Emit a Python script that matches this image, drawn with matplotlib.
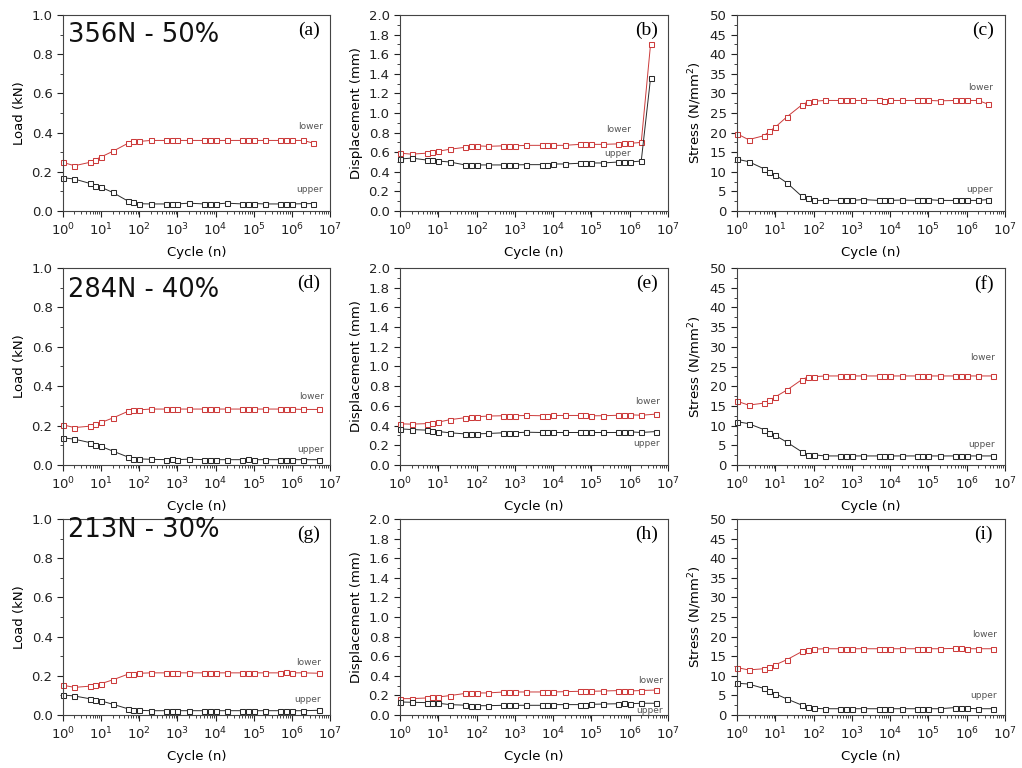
import numpy as np
import matplotlib
matplotlib.use("Agg")
import matplotlib.pyplot as plt
from matplotlib.ticker import MultipleLocator, LogLocator

# cycle counts
cycles_r1 = [1, 2, 5, 7, 10, 20, 50, 70, 100, 200, 500, 700, 1e3, 2e3, 5e3, 7e3,
             1e4, 2e4, 5e4, 7e4, 1e5, 2e5, 5e5, 7e5, 1e6, 2e6, 3.5e6]
cycles_r23 = cycles_r1[:-1] + [5e6]

# 356N - 50%
load_a_lower = [0.248, 0.231, 0.248, 0.262, 0.276, 0.304, 0.345, 0.355, 0.355, 0.36, 0.36, 0.36, 0.36, 0.36,
                0.36, 0.36, 0.36, 0.36, 0.36, 0.36, 0.36, 0.36, 0.36, 0.36, 0.36, 0.36, 0.347]
load_a_upper = [0.17, 0.163, 0.141, 0.129, 0.121, 0.095, 0.051, 0.044, 0.037, 0.036, 0.036, 0.036, 0.036, 0.04,
                0.036, 0.036, 0.036, 0.04, 0.036, 0.038, 0.038, 0.036, 0.036, 0.036, 0.036, 0.037, 0.038]
disp_b_lower = [0.59, 0.58, 0.59, 0.60, 0.61, 0.63, 0.65, 0.66, 0.665, 0.66, 0.665, 0.665, 0.665, 0.67,
                0.67, 0.67, 0.67, 0.67, 0.68, 0.68, 0.68, 0.68, 0.685, 0.69, 0.69, 0.70, 1.70]
disp_b_upper = [0.53, 0.54, 0.52, 0.52, 0.51, 0.50, 0.47, 0.47, 0.47, 0.47, 0.47, 0.47, 0.47, 0.473,
                0.473, 0.473, 0.48, 0.48, 0.487, 0.49, 0.49, 0.49, 0.50, 0.50, 0.50, 0.51, 1.356]
stress_c_lower = [19.7, 18.2, 19.2, 20.3, 21.4, 24.0, 27.1, 27.8, 28.0, 28.2, 28.2, 28.2, 28.2, 28.2,
                  28.2, 28.0, 28.2, 28.2, 28.2, 28.2, 28.2, 28.1, 28.2, 28.2, 28.2, 28.2, 27.3]
stress_c_upper = [13.2, 12.6, 10.8, 9.9, 9.2, 7.2, 3.7, 3.2, 2.7, 2.7, 2.7, 2.7, 2.7, 2.9,
                  2.7, 2.7, 2.7, 2.8, 2.7, 2.9, 2.9, 2.7, 2.7, 2.7, 2.7, 2.7, 2.9]

# 284N - 40%
load_d_lower = [0.204, 0.19, 0.197, 0.207, 0.216, 0.238, 0.272, 0.279, 0.28, 0.284, 0.284, 0.284, 0.284, 0.284,
                0.284, 0.284, 0.284, 0.284, 0.284, 0.284, 0.284, 0.284, 0.284, 0.284, 0.284, 0.282, 0.282]
load_d_upper = [0.138, 0.131, 0.114, 0.104, 0.094, 0.071, 0.041, 0.031, 0.031, 0.029, 0.027, 0.03, 0.027, 0.03,
                0.027, 0.027, 0.027, 0.027, 0.027, 0.03, 0.027, 0.027, 0.027, 0.027, 0.027, 0.027, 0.027]
disp_e_lower = [0.418, 0.415, 0.42, 0.43, 0.435, 0.46, 0.48, 0.486, 0.49, 0.497, 0.50, 0.50, 0.50, 0.503,
                0.50, 0.50, 0.503, 0.503, 0.503, 0.503, 0.50, 0.50, 0.505, 0.507, 0.51, 0.505, 0.517]
disp_e_upper = [0.367, 0.36, 0.354, 0.35, 0.34, 0.327, 0.316, 0.316, 0.316, 0.32, 0.327, 0.327, 0.327, 0.333,
                0.33, 0.33, 0.33, 0.33, 0.33, 0.33, 0.33, 0.33, 0.33, 0.33, 0.337, 0.33, 0.34]
stress_f_lower = [16.2, 15.2, 15.7, 16.4, 17.3, 19.0, 21.7, 22.3, 22.4, 22.6, 22.6, 22.6, 22.6, 22.6,
                  22.6, 22.6, 22.6, 22.6, 22.6, 22.6, 22.6, 22.6, 22.6, 22.6, 22.6, 22.6, 22.6]
stress_f_upper = [11.0, 10.5, 9.0, 8.2, 7.5, 5.8, 3.3, 2.6, 2.6, 2.3, 2.3, 2.3, 2.3, 2.3,
                  2.3, 2.3, 2.3, 2.3, 2.3, 2.3, 2.3, 2.3, 2.3, 2.3, 2.3, 2.3, 2.3]

# 213N - 30%
load_g_lower = [0.152, 0.141, 0.147, 0.152, 0.16, 0.179, 0.208, 0.211, 0.213, 0.215, 0.215, 0.215, 0.215, 0.215,
                0.215, 0.215, 0.215, 0.215, 0.215, 0.215, 0.215, 0.215, 0.215, 0.218, 0.215, 0.215, 0.213]
load_g_upper = [0.102, 0.097, 0.083, 0.077, 0.072, 0.055, 0.032, 0.027, 0.024, 0.022, 0.022, 0.022, 0.022, 0.022,
                0.022, 0.022, 0.022, 0.022, 0.022, 0.022, 0.022, 0.022, 0.022, 0.022, 0.022, 0.022, 0.024]
disp_h_lower = [0.167, 0.167, 0.174, 0.18, 0.184, 0.198, 0.22, 0.225, 0.225, 0.225, 0.235, 0.235, 0.235, 0.235,
                0.235, 0.235, 0.235, 0.238, 0.242, 0.242, 0.242, 0.245, 0.249, 0.249, 0.245, 0.25, 0.255]
disp_h_upper = [0.133, 0.13, 0.126, 0.123, 0.12, 0.106, 0.1, 0.095, 0.095, 0.095, 0.099, 0.099, 0.099, 0.099,
                0.099, 0.099, 0.106, 0.106, 0.106, 0.106, 0.109, 0.112, 0.115, 0.12, 0.115, 0.12, 0.12]
stress_i_lower = [12.1, 11.5, 11.8, 12.3, 12.8, 14.1, 16.2, 16.7, 16.8, 16.9, 16.9, 16.9, 16.9, 16.9,
                  16.9, 16.9, 16.9, 16.9, 16.9, 16.9, 16.9, 16.9, 17.0, 17.1, 16.9, 16.9, 16.9]
stress_i_upper = [8.1, 7.9, 6.8, 6.1, 5.4, 4.1, 2.5, 2.0, 1.7, 1.6, 1.6, 1.6, 1.6, 1.6,
                  1.6, 1.6, 1.6, 1.6, 1.6, 1.6, 1.6, 1.6, 1.9, 1.9, 1.7, 1.6, 1.6]

case_labels = ["356N - 50%", "284N - 40%", "213N - 30%"]
panel_tags = ["(a)", "(b)", "(c)", "(d)", "(e)", "(f)", "(g)", "(h)", "(i)"]
ylabels = ["Load (kN)", "Displacement (mm)", "Stress (N/mm$^2$)"]

RED = "#cc3b3b"
BLK = "#2a2a2a"

plt.rcParams['font.family'] = ['DejaVu Sans']
fig = plt.figure(figsize=(10.22, 7.68), dpi=100)
W, H = 1022.0, 768.0

col_x = [(63, 330), (400, 668), (737, 1005)]
row_y = [(15, 211), (268, 465), (519, 715)]

series = [
    [(cycles_r1, load_a_lower, load_a_upper), (cycles_r1, disp_b_lower, disp_b_upper), (cycles_r1, stress_c_lower, stress_c_upper)],
    [(cycles_r23, load_d_lower, load_d_upper), (cycles_r23, disp_e_lower, disp_e_upper), (cycles_r23, stress_f_lower, stress_f_upper)],
    [(cycles_r23, load_g_lower, load_g_upper), (cycles_r23, disp_h_lower, disp_h_upper), (cycles_r23, stress_i_lower, stress_i_upper)],
]

# label positions (x right end, y lower, y upper)
tag_pos = [
    [(6.5e6, 0.43, 0.11), (1.1e6, 0.83, 0.59), (4.8e6, 31.4, 5.5)],
    [(7e6, 0.35, 0.08), (6.2e6, 0.64, 0.22), (5.5e6, 27.2, 5.3)],
    [(5.9e6, 0.27, 0.077), (7.4e6, 0.35, 0.048), (6e6, 20.5, 5.0)],
]
case_y = [0.9, 0.89, 0.945]

ylims = [(0, 1.0, 0.2, 0.1), (0, 2.0, 0.2, 0.1), (0, 50, 5, 2.5)]

for r in range(3):
    for c in range(3):
        x0, x1 = col_x[c]
        y0, y1 = row_y[r]
        ax = fig.add_axes([x0 / W, 1 - y1 / H, (x1 - x0) / W, (y1 - y0) / H])
        xs, lo, up = series[r][c]
        ax.plot(xs, lo, '-s', color=RED, lw=0.7, ms=3.6, mfc='white', mew=0.75, clip_on=False)
        ax.plot(xs, up, '-s', color=BLK, lw=0.7, ms=3.6, mfc='white', mew=0.75, clip_on=False)
        ax.set_xscale('log')
        ax.set_xlim(1, 1e7)
        ymin, ymax, maj, mnr = ylims[c]
        ax.set_ylim(ymin, ymax)
        ax.yaxis.set_major_locator(MultipleLocator(maj))
        ax.yaxis.set_minor_locator(MultipleLocator(mnr))
        ax.xaxis.set_major_locator(LogLocator(base=10, numticks=10))
        ax.xaxis.set_minor_locator(LogLocator(base=10, subs=np.arange(2, 10), numticks=20))
        if c == 2:
            ax.yaxis.set_major_formatter(matplotlib.ticker.FormatStrFormatter('%d'))
        else:
            ax.yaxis.set_major_formatter(matplotlib.ticker.FormatStrFormatter('%.1f'))
        ax.tick_params(which='both', direction='out', top=False, right=False, labelsize=9.5, colors='#222')
        ax.tick_params(which='major', length=4, width=0.8)
        ax.tick_params(which='minor', length=2, width=0.6)
        for sp in ax.spines.values():
            sp.set_linewidth(0.8)
            sp.set_color('#444')
        ax.set_xlabel("Cycle (n)", fontsize=9.5, labelpad=6)
        ax.set_ylabel(ylabels[c], fontsize=9.5, labelpad=4)
        ax.text(0.92, 0.92, panel_tags[r * 3 + c], transform=ax.transAxes, ha='center', va='center',
                fontsize=14, family='Liberation Serif')
        if c == 0:
            ax.text(0.02, case_y[r], case_labels[r], transform=ax.transAxes, ha='left', va='center',
                    fontsize=18.5, color='#111')
        tx, ly, uy = tag_pos[r][c]
        ax.text(tx, ly, "lower", ha='right', va='center', fontsize=6.5, color='#555')
        ax.text(tx, uy, "upper", ha='right', va='center', fontsize=6.5, color='#555')

fig.savefig("out.png", dpi=100)
